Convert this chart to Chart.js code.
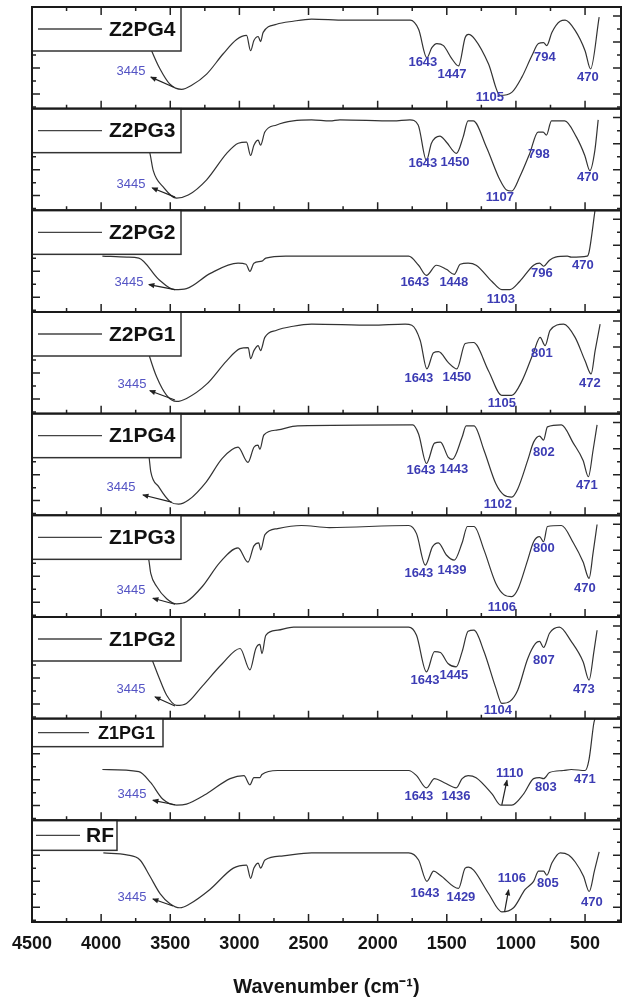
<!DOCTYPE html>
<html lang="en">
<head>
<meta charset="utf-8" />
<title>FTIR spectra – RF, Z1PG1-4, Z2PG1-4</title>
<script src="https://cdn.jsdelivr.net/npm/chart.js@4.4"></script>
<style>
  html,body{margin:0;padding:0;background:#fff;}
  #wrap{width:624px;height:1003px;}
</style>
</head>
<body>
<div id="wrap"><canvas id="ftir" width="624" height="1003"></canvas></div>

<script>
/***** ---------- Data (wavenumber cm-1, relative transmittance 0-100 per panel) ---------- *****/
const names = ['Z2PG4','Z2PG3','Z2PG2','Z2PG1','Z1PG4','Z1PG3','Z1PG2','Z1PG1','RF'];

const Z2PG4 = [[3700,80],[3635,57],[3574,39],[3502,24],[3418,19],[3345,23],[3237,34],[3117,54],[3020,68],[2948,72],[2919,57],[2895,67],[2864,71],[2847,66],[2828,75],[2731,83],[2611,86],[2478,88],[2235,87],[1765,87],[1704,78],[1644,50],[1608,60],[1572,64],[1524,62],[1463,49],[1415,42],[1367,70],[1343,73],[1295,68],[1198,44],[1114,13],[1030,16],[957,31],[885,52],[837,64],[800,65],[777,62],[740,75],[680,86],[644,87],[572,77],[500,57],[460,39],[398,90]];
const Z2PG3 = [[3700,80],[3647,56],[3623,39],[3551,23],[3454,12],[3370,15],[3237,30],[3092,56],[3008,66],[2948,67],[2919,54],[2895,64],[2864,69],[2847,64],[2816,77],[2731,84],[2611,88],[2478,89],[2345,88],[2273,89],[1888,88],[1767,89],[1707,84],[1647,49],[1611,66],[1550,73],[1502,67],[1430,56],[1382,72],[1346,88],[1309,88],[1213,62],[1116,30],[1068,20],[1030,19],[972,33],[900,56],[840,77],[803,77],[779,74],[743,88],[647,88],[562,72],[502,54],[465,39],[429,59],[405,89]];
const Z2PG2 = [[3991,55],[3813,54],[3727,53],[3583,32],[3469,22],[3383,23],[3210,38],[3010,48],[2952,47],[2924,40],[2895,48],[2837,50],[2809,53],[2665,55],[1776,55],[1704,46],[1647,36],[1575,46],[1503,42],[1446,37],[1403,47],[1346,48],[1288,46],[1173,30],[1102,22],[1044,22],[973,30],[872,46],[829,48],[800,45],[757,51],[714,54],[628,55],[600,54],[485,55],[471,59],[428,100]];
const Z2PG1 = [[3700,80],[3647,55],[3598,36],[3526,18],[3454,12],[3382,15],[3237,29],[3092,52],[2996,64],[2936,65],[2919,54],[2895,62],[2864,67],[2847,62],[2816,75],[2731,82],[2611,86],[2478,88],[2042,87],[1801,88],[1753,87],[1692,72],[1644,44],[1596,60],[1560,61],[1487,50],[1427,44],[1367,69],[1307,70],[1198,42],[1102,18],[1030,18],[957,32],[873,60],[825,75],[789,67],[753,82],[655,88],[572,75],[500,52],[456,39],[427,62],[391,88]];
const Z1PG4 = [[3700,80],[3655,59],[3641,43],[3583,28],[3497,13],[3440,11],[3368,15],[3239,33],[3124,56],[3010,67],[2938,52],[2895,67],[2866,69],[2852,65],[2823,79],[2723,84],[2579,88],[1747,89],[1704,80],[1647,51],[1589,71],[1546,72],[1489,57],[1460,55],[1389,77],[1360,88],[1303,88],[1231,64],[1145,31],[1087,20],[1030,18],[987,26],[915,54],[872,72],[829,78],[800,74],[772,87],[671,89],[585,71],[514,54],[476,38],[442,64],[413,89]];
const Z1PG3 = [[3700,80],[3655,56],[3641,43],[3598,30],[3526,18],[3454,13],[3383,15],[3268,30],[3139,54],[3010,68],[2938,54],[2895,70],[2860,73],[2846,66],[2815,81],[2723,87],[2551,90],[2350,88],[1776,90],[1719,82],[1655,51],[1604,69],[1561,73],[1503,61],[1446,56],[1389,73],[1351,89],[1303,89],[1231,66],[1145,33],[1087,22],[1030,20],[987,27],[915,56],[872,74],[829,79],[800,74],[772,89],[671,90],[585,73],[514,54],[471,38],[442,63],[413,91]];
const Z1PG2 = [[3700,80],[3626,56],[3583,41],[3526,23],[3454,13],[3383,15],[3268,32],[3124,54],[2995,69],[2924,48],[2881,69],[2852,73],[2837,64],[2809,82],[2723,87],[2608,90],[1776,90],[1719,82],[1647,46],[1589,66],[1546,65],[1489,54],[1432,51],[1389,66],[1346,86],[1303,87],[1231,66],[1145,30],[1102,15],[1044,17],[987,28],[915,59],[858,74],[829,76],[800,70],[757,84],[686,90],[600,76],[514,56],[471,38],[436,66],[413,87]];
const Z1PG1 = [[3991,50],[3727,48],[3641,37],[3555,21],[3454,15],[3383,16],[3239,26],[3067,41],[2967,44],[2924,35],[2895,42],[2852,42],[2837,45],[2723,49],[1776,49],[1719,44],[1647,32],[1589,41],[1518,37],[1432,32],[1389,41],[1346,44],[1288,42],[1173,26],[1110,15],[1030,15],[944,26],[872,41],[829,42],[800,41],[757,47],[657,49],[600,50],[499,49],[471,60],[436,96],[428,100]];
const RF    = [[3984,68],[3815,66],[3719,61],[3647,45],[3574,28],[3502,18],[3430,14],[3357,18],[3213,32],[3044,53],[2948,56],[2919,43],[2895,53],[2864,58],[2847,53],[2815,61],[2683,65],[2478,68],[1776,68],[1704,61],[1644,40],[1595,50],[1547,46],[1415,33],[1367,53],[1343,54],[1306,51],[1198,28],[1102,10],[1017,14],[933,32],[872,40],[836,50],[800,50],[776,46],[740,58],[680,68],[619,66],[571,59],[511,45],[470,30],[431,51],[398,69]];
const spectra = [Z2PG4,Z2PG3,Z2PG2,Z2PG1,Z1PG4,Z1PG3,Z1PG2,Z1PG1,RF];

// peak labels per panel, with their anchor in (wavenumber, value)
const peakText = [
  ['3445','1643','1447','1105','794','470'],
  ['3445','1643','1450','1107','798','470'],
  ['3445','1643','1448','1103','796','470'],
  ['3445','1643','1450','1105','801','472'],
  ['3445','1643','1443','1102','802','471'],
  ['3445','1643','1439','1106','800','470'],
  ['3445','1643','1445','1104','807','473'],
  ['3445','1643','1436','1110','803','471'],
  ['3445','1643','1429','1106','805','470']
];
const peakAt = [
  [[3784,37],[1673,45],[1463,34],[1188,11.5],[791,50],[480,31]],
  [[3784,25],[1673,46.5],[1441,47.5],[1116,13],[834,55],[480,32]],
  [[3798,29.5],[1731,29.5],[1449,29.5],[1109,12.8],[812,38.3],[516,46.2]],
  [[3777,29.2],[1702,35],[1427,36],[1102,10.5],[812,59.7],[465,30]],
  [[3856,27.8],[1687,44.5],[1449,45.5],[1131,11],[798,62],[487,29]],
  [[3784,26.5],[1702,43.3],[1463,46.2],[1102,9.8],[798,67.8],[501,28.5]],
  [[3784,29.2],[1658,38],[1449,43],[1131,8.6],[798,57.7],[509,29.2]],
  [[3777,25.9],[1702,23.9],[1434,23.9],[1044,46.5],[783,32.8],[501,40.6]],
  [[3777,24.6],[1658,28.5],[1398,24.6],[1029,43.3],[769,38.3],[451,19.7]]
];
// arrows: [tail, head] per panel
const peakArrows = [
  [[[3475,21],[3640,31]]],
  [[[3465,13],[3630,22]]],
  [[[3466,22],[3654,27]]],
  [[[3466,13.5],[3647,22.6]]],
  [[[3490,13],[3697,20]]],
  [[[3466,12.5],[3625,18.4]]],
  [[[3466,12.5],[3610,21.3]]],
  [[[3466,15.3],[3625,19.7]],[[1102,15.3],[1065,39.3]]],
  [[[3480,15.7],[3625,22.6]],[[1082,10],[1053,31.5]]]
];

const xTicks = [4500,4000,3500,3000,2500,2000,1500,1000,500];
const xMinor = [4250,3750,3250,2750,2250,1750,1250,750];
const yMajor = [14.5,40,65.6,91.2];
const yMinor = [1.7,27.2,52.8,78.4];

/***** ---------- Styles ---------- *****/
const FONT = "'Liberation Sans', Arial, sans-serif";
const PEAK_COLOR = '#3c3cb4';
// legend box per panel: width, height, line start/end, text x, font size (px, from plot left)
const legendStyle = names.map(n=>{
  if(n==='Z1PG1') return {w:131,h:28,l0:6,l1:57,tx:66,fs:18};
  if(n==='RF')    return {w:85,h:30,l0:4,l1:48,tx:54,fs:21};
  return {w:149,h:44,l0:6,l1:70,tx:77,fs:21};
});

/***** ---------- Plugin: frames, ticks, legends, peak labels ---------- *****/
function arrow(ctx,x1,y1,x2,y2){
  const a=Math.atan2(y2-y1,x2-x1), s=6;
  ctx.beginPath();ctx.moveTo(x1,y1);ctx.lineTo(x2,y2);ctx.stroke();
  ctx.beginPath();
  ctx.moveTo(x2+Math.cos(a)*1,y2+Math.sin(a)*1);
  ctx.lineTo(x2-Math.cos(a-0.45)*s,y2-Math.sin(a-0.45)*s);
  ctx.lineTo(x2-Math.cos(a+0.45)*s,y2-Math.sin(a+0.45)*s);
  ctx.closePath();ctx.fill();
}

const panelPlugin={
  id:'panels',
  afterDatasetsDraw(chart){
    const ctx=chart.ctx, xs=chart.scales.x, ca=chart.chartArea;
    ctx.save();
    names.forEach((name,i)=>{
      const ys=chart.scales['y'+i];
      const top=ys.top, bot=ys.bottom;

      // peak labels
      ctx.textAlign='center';ctx.textBaseline='middle';
      peakText[i].forEach((t,k)=>{
        const [w,v]=peakAt[i][k];
        ctx.fillStyle=t==='3445'?'#5454c4':PEAK_COLOR;
        ctx.font=(t==='3445'?'':'bold ')+'13px '+FONT;
        ctx.fillText(t,xs.getPixelForValue(w),ys.getPixelForValue(v));
      });
      ctx.strokeStyle='#222';ctx.fillStyle='#222';ctx.lineWidth=1.2;
      peakArrows[i].forEach(([a,b])=>{
        arrow(ctx,xs.getPixelForValue(a[0]),ys.getPixelForValue(a[1]),xs.getPixelForValue(b[0]),ys.getPixelForValue(b[1]));
      });

      // legend box
      const L=legendStyle[i];
      ctx.fillStyle='#fff';
      ctx.fillRect(ca.left,top,L.w,L.h);
      ctx.strokeStyle='#333';ctx.lineWidth=1.5;
      ctx.strokeRect(ca.left,top,L.w,L.h);
      ctx.strokeStyle='#444';ctx.lineWidth=1.4;
      ctx.beginPath();ctx.moveTo(ca.left+L.l0,top+L.h/2);ctx.lineTo(ca.left+L.l1,top+L.h/2);ctx.stroke();
      ctx.fillStyle='#111';ctx.textAlign='left';ctx.textBaseline='middle';
      ctx.font='bold '+L.fs+'px '+FONT;
      ctx.fillText(name,ca.left+L.tx,top+L.h/2+1);

      // ticks
      ctx.strokeStyle='#222';ctx.lineWidth=1.5;
      ctx.beginPath();
      xTicks.forEach(v=>{const p=xs.getPixelForValue(v);ctx.moveTo(p,bot);ctx.lineTo(p,bot-8);if(i===0){ctx.moveTo(p,top);ctx.lineTo(p,top+8);}});
      xMinor.forEach(v=>{const p=xs.getPixelForValue(v);ctx.moveTo(p,bot);ctx.lineTo(p,bot-4);if(i===0){ctx.moveTo(p,top);ctx.lineTo(p,top+4);}});
      yMajor.forEach(v=>{const p=ys.getPixelForValue(v);
        if(p>top+L.h+2){ctx.moveTo(ca.left,p);ctx.lineTo(ca.left+8,p);}
        ctx.moveTo(ca.right,p);ctx.lineTo(ca.right-8,p);});
      yMinor.forEach(v=>{const p=ys.getPixelForValue(v);
        if(p>top+L.h+2){ctx.moveTo(ca.left,p);ctx.lineTo(ca.left+4,p);}
        ctx.moveTo(ca.right,p);ctx.lineTo(ca.right-4,p);});
      ctx.stroke();

      // frame
      ctx.lineWidth=2;ctx.strokeStyle='#1a1a1a';
      ctx.strokeRect(ca.left,top,ca.right-ca.left,bot-top);
    });
    ctx.restore();
  }
};

/***** ---------- Scales ---------- *****/
const scales={
  x:{type:'linear',reverse:true,min:240,max:4500,
     afterBuildTicks:s=>{s.ticks=xTicks.map(v=>({value:v}));},
     afterFit:s=>{s.height=81;},
     grid:{display:false,drawTicks:false},border:{display:false},
     ticks:{padding:11,color:'#151515',autoSkip:false,maxRotation:0,font:{family:FONT,size:18,weight:'bold'},callback:v=>String(v)},
     title:{display:true,text:'Wavenumber (cm⁻¹)',color:'#151515',font:{family:FONT,size:20,weight:'bold'},padding:{top:0,bottom:4}}}
};
// left-stacked axes are laid out last-defined on top, so add them bottom-up
for(let i=names.length-1;i>=0;i--){
  scales['y'+i]={type:'linear',position:'left',stack:'ftir',stackWeight:1,min:0,max:100,
    ticks:{display:false},grid:{display:false,drawTicks:false},border:{display:false},
    afterFit:s=>{s.width=0;}};
}

new Chart(document.getElementById('ftir'),{
  type:'line',
  data:{datasets:spectra.map((pts,i)=>({
    label:names[i],
    data:pts.map(p=>({x:p[0],y:p[1]})),
    yAxisID:'y'+i,
    borderColor:'#333',borderWidth:1.2,pointRadius:0,fill:false,
    cubicInterpolationMode:'monotone'
  }))},
  options:{
    responsive:false,animation:false,
    layout:{padding:{left:32,right:3,top:7,bottom:0}},
    plugins:{legend:{display:false},tooltip:{enabled:false}},
    scales
  },
  plugins:[panelPlugin]
});
</script>
</body>
</html>
